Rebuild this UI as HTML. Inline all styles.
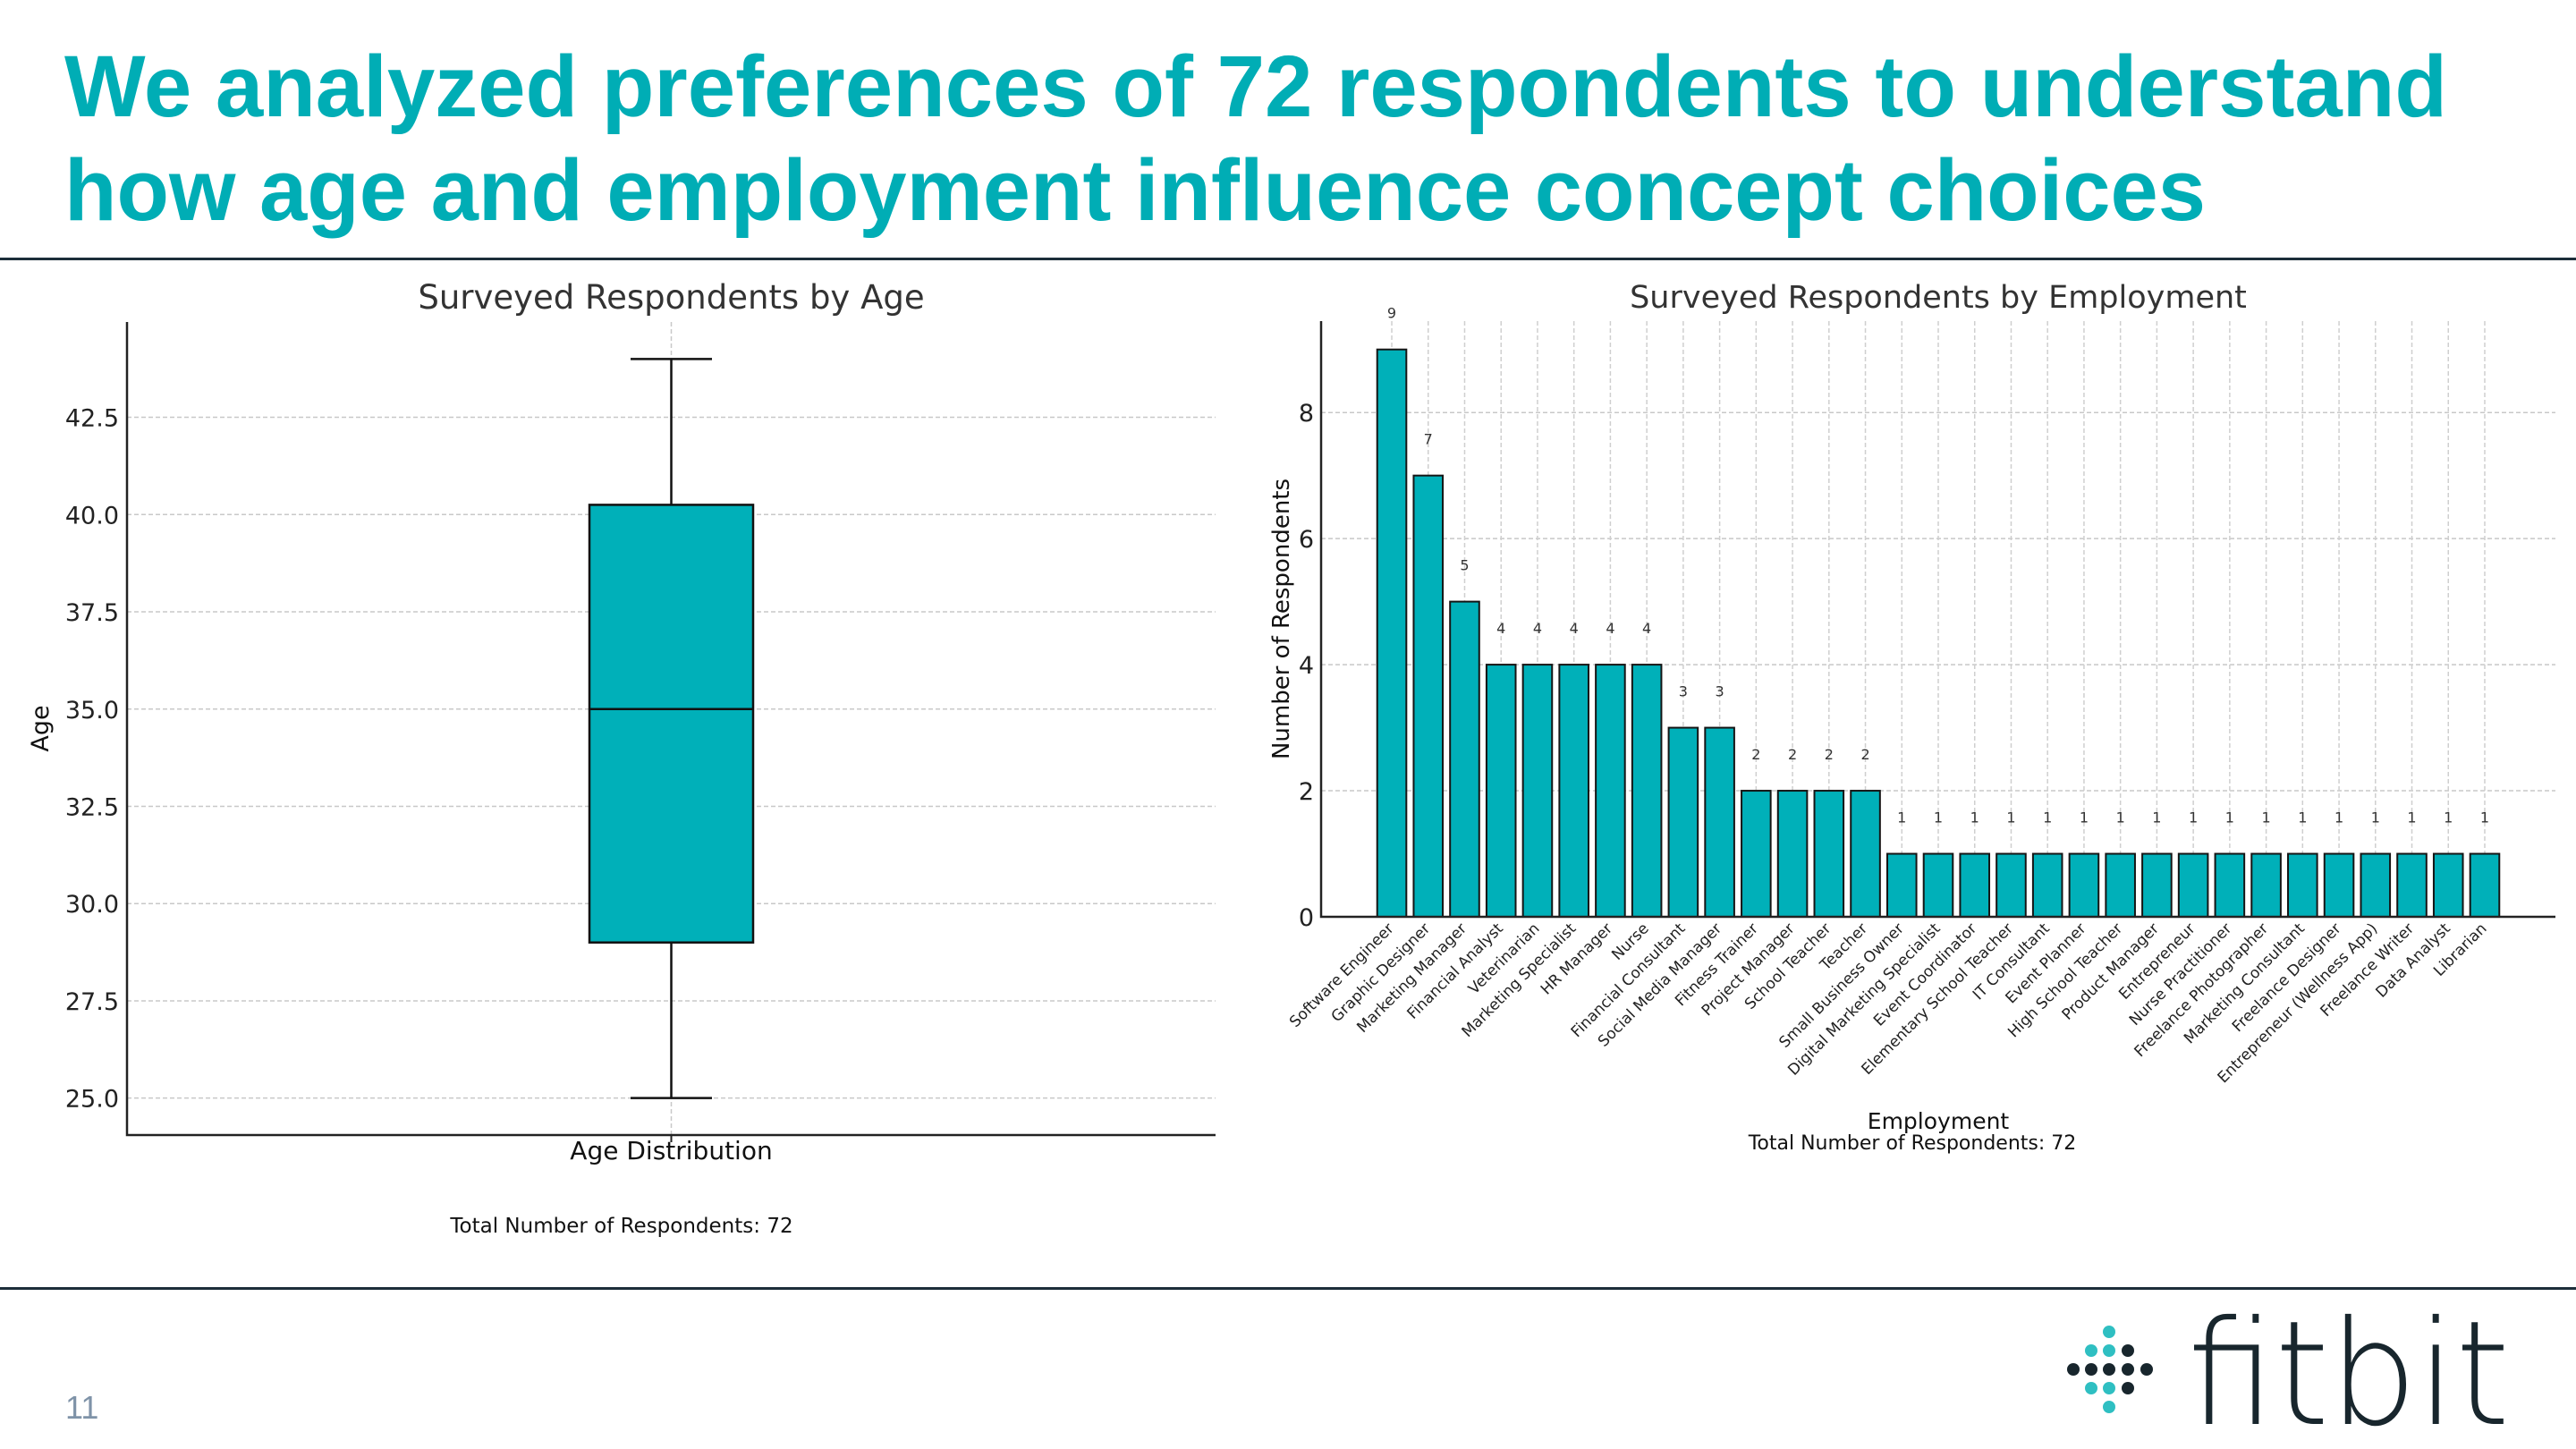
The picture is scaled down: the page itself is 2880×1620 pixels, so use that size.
<!DOCTYPE html>
<html><head><meta charset="utf-8"><style>
html,body{margin:0;padding:0;background:#fff;}
svg{display:block;}
</style></head><body>
<svg id="page" width="2880" height="1620" viewBox="0 0 2880 1620" xmlns="http://www.w3.org/2000/svg">
<rect width="2880" height="1620" fill="#fff"/>
<g font-family="Liberation Sans, Arial, sans-serif" font-weight="bold" font-size="97" fill="#00adb5">
<text x="72" y="130" textLength="2664" lengthAdjust="spacingAndGlyphs">We analyzed preferences of 72 respondents to understand</text>
<text x="72" y="246" textLength="2394" lengthAdjust="spacingAndGlyphs">how age and employment influence concept choices</text>
</g>
<rect x="0" y="288" width="2880" height="3" fill="#1c2e3a"/>
<rect x="0" y="1439" width="2880" height="3" fill="#1c2e3a"/>
<g id="boxchart" font-family="DejaVu Sans, sans-serif"></g>
<g id="barchart" font-family="DejaVu Sans, sans-serif"></g>
<text x="73" y="1586" font-family="Liberation Sans, sans-serif" font-size="36" fill="#7f93a8">11</text>
<g id="logo">
<text x="2446" y="1592" font-family="DejaVu Sans, sans-serif" font-weight="200" font-size="162" fill="#18262d" textLength="360" lengthAdjust="spacingAndGlyphs">fitbit</text>
</g>
</svg>
<script>
// ---- age box data ----
const ageStats = [25, 29, 35, 40.25, 44]; // min, q1, median, q3, max
const ageTicks = [25.0, 27.5, 30.0, 32.5, 35.0, 37.5, 40.0, 42.5];
// ---- employment data ----
const jobs = ["Software Engineer","Graphic Designer","Marketing Manager","Financial Analyst","Veterinarian","Marketing Specialist","HR Manager","Nurse","Financial Consultant","Social Media Manager","Fitness Trainer","Project Manager","School Teacher","Teacher","Small Business Owner","Digital Marketing Specialist","Event Coordinator","Elementary School Teacher","IT Consultant","Event Planner","High School Teacher","Product Manager","Entrepreneur","Nurse Practitioner","Freelance Photographer","Marketing Consultant","Freelance Designer","Entrepreneur (Wellness App)","Freelance Writer","Data Analyst","Librarian"];
const counts = [9,7,5,4,4,4,4,4,3,3,2,2,2,2,1,1,1,1,1,1,1,1,1,1,1,1,1,1,1,1,1];
const countTicks = [0,2,4,6,8];

const NS = "http://www.w3.org/2000/svg";
function mk(parent, tag, attrs, text){
  const e = document.createElementNS(NS, tag);
  for (const k in attrs) e.setAttribute(k, attrs[k]);
  if (text !== undefined) e.textContent = text;
  parent.appendChild(e); return e;
}
const TEAL = "#00b0b9";

// ---------- Box chart ----------
(function(){
  const g = document.getElementById('boxchart');
  const L=142, R=1359, T=360, B=1269;
  const vmin = ageStats[0], vmax = ageStats[4];
  const pad = (vmax - vmin) * 0.05;
  const lo = vmin - pad, hi = vmax + pad;
  const y = v => B - (v - lo) / (hi - lo) * (B - T);
  const cx = (L + R) / 2;
  ageTicks.forEach(t => {
    const gl = mk(g, 'line', {x1:L, x2:R, y1:y(t), y2:y(t), stroke:'#c8c8c8', 'stroke-width':1.5, 'stroke-dasharray':'5,3'});
    
    
    const tl = mk(g, 'text', {x:L-9, y:y(t)+10, 'text-anchor':'end', 'font-size':27, fill:'#222'}, t.toFixed(1));
    
    
  });
  const vg = mk(g, 'line', {x1:cx, x2:cx, y1:T, y2:B, stroke:'#c8c8c8', 'stroke-width':1.5, 'stroke-dasharray':'5,3'});
  
  
  const bw = 183, cw = 91;
  const w1 = mk(g, 'line', {x1:cx, x2:cx, y1:y(ageStats[0]), y2:y(ageStats[1]), stroke:'#111', 'stroke-width':2.5});
  
  
  const w2 = mk(g, 'line', {x1:cx, x2:cx, y1:y(ageStats[3]), y2:y(ageStats[4]), stroke:'#111', 'stroke-width':2.5});
  
  
  const c1 = mk(g, 'line', {x1:cx-cw/2, x2:cx+cw/2, y1:y(ageStats[0]), y2:y(ageStats[0]), stroke:'#111', 'stroke-width':2.5});
  
  
  const c2 = mk(g, 'line', {x1:cx-cw/2, x2:cx+cw/2, y1:y(ageStats[4]), y2:y(ageStats[4]), stroke:'#111', 'stroke-width':2.5});
  
  
  const box = mk(g, 'rect', {x:cx-bw/2, y:y(ageStats[3]), width:bw, height:y(ageStats[1])-y(ageStats[3]), fill:TEAL, stroke:'#111', 'stroke-width':2.5});
  
  
  const med = mk(g, 'line', {x1:cx-bw/2, x2:cx+bw/2, y1:y(ageStats[2]), y2:y(ageStats[2]), stroke:'#111', 'stroke-width':2.5});
  
  
  const ax = mk(g, 'path', {d:`M${L},${T} V${B} H${R}`, fill:'none', stroke:'#222', 'stroke-width':2.5});
  
  
  const tk = mk(g, 'line', {x1:cx, x2:cx, y1:B, y2:B+8, stroke:'#222', 'stroke-width':2});
  
  
  const t1 = mk(g, 'text', {x:cx, y:345, 'text-anchor':'middle', 'font-size':37, fill:'#333'}, 'Surveyed Respondents by Age');
  
  
  const xl = mk(g, 'text', {x:cx, y:1296, 'text-anchor':'middle', 'font-size':28, fill:'#111'}, 'Age Distribution');
  
  
  const yl = mk(g, 'text', {x:0, y:0, 'text-anchor':'middle', 'font-size':27, fill:'#111', transform:`translate(54,${(T+B)/2}) rotate(-90)`}, 'Age');
  
  
  const tot = mk(g, 'text', {x:695, y:1378, 'text-anchor':'middle', 'font-size':23, fill:'#111'}, 'Total Number of Respondents: 72');
  
  
})();

// ---------- Bar chart ----------
(function(){
  const g = document.getElementById('barchart');
  const L=1477, R=2857, T=359, B=1025;
  const n = counts.length;
  const lo = -0.4 - (n - 0.2) * 0.05, hi = (n - 0.6) + (n - 0.2) * 0.05;
  const x = i => L + (i - lo) / (hi - lo) * (R - L);
  const maxV = Math.max(...counts);
  const top = maxV * 1.05;
  const y = v => B - v / top * (B - T);
  const step = x(1) - x(0);
  countTicks.forEach(t => {
    const gl = mk(g, 'line', {x1:L, x2:R, y1:y(t), y2:y(t), stroke:'#c8c8c8', 'stroke-width':1.5, 'stroke-dasharray':'5,3'});
    
    
    const tl = mk(g, 'text', {x:L-8, y:y(t)+10, 'text-anchor':'end', 'font-size':27, fill:'#222'}, String(t));
    
    
  });
  counts.forEach((v, i) => {
    const vg = mk(g, 'line', {x1:x(i), x2:x(i), y1:T, y2:B, stroke:'#cfcfcf', 'stroke-width':1.5, 'stroke-dasharray':'5,3'});
    
    
  });
  counts.forEach((v, i) => {
    const bw = step * 0.8;
    const bar = mk(g, 'rect', {x:x(i)-bw/2, y:y(v), width:bw, height:B-y(v), fill:TEAL, stroke:'#151515', 'stroke-width':2});
    
    
    const vl = mk(g, 'text', {x:x(i), y:y(v + 0.5), 'text-anchor':'middle', 'font-size':16, fill:'#333'}, String(v));
    
    
    const jl = mk(g, 'text', {x:0, y:0, 'text-anchor':'end', 'font-size':17, fill:'#222', transform:`translate(${x(i)+3},${B+14}) rotate(-45)`}, jobs[i]);
    
    
  });
  const ax = mk(g, 'path', {d:`M${L},${T} V${B} H${R}`, fill:'none', stroke:'#222', 'stroke-width':2.5});
  
  
  const t1 = mk(g, 'text', {x:2167, y:344, 'text-anchor':'middle', 'font-size':35, fill:'#333'}, 'Surveyed Respondents by Employment');
  
  
  const yl = mk(g, 'text', {x:0, y:0, 'text-anchor':'middle', 'font-size':26, fill:'#111', transform:`translate(1441,${(T+B)/2}) rotate(-90)`}, 'Number of Respondents');
  
  
  const xl = mk(g, 'text', {x:2167, y:1262, 'text-anchor':'middle', 'font-size':25, fill:'#111'}, 'Employment');
  
  
  const tot = mk(g, 'text', {x:2138, y:1285, 'text-anchor':'middle', 'font-size':22, fill:'#111'}, 'Total Number of Respondents: 72');
  
  
})();

// ---------- Logo dots ----------
(function(){
  const g = document.getElementById('logo');
  const cols = [2318, 2338, 2358, 2379, 2400];
  const rows = [1489, 1510, 1531, 1552, 1573];
  const D = '#18262d', C = '#2fbfc2';
  const pattern = [[0,2,D],[1,1,C],[1,2,D],[1,3,C],[2,0,C],[2,1,C],[2,2,D],[2,3,C],[2,4,C],[3,1,D],[3,2,D],[3,3,D],[4,2,D]];
  pattern.forEach(p => {
    const d = mk(g, 'circle', {cx:cols[p[0]], cy:rows[p[1]], r:7, fill:p[2]});
    
    
  });
})();
</script>
</body></html>
